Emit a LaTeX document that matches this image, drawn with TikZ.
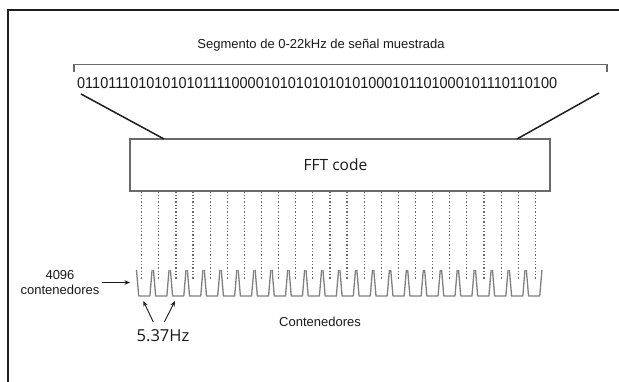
\documentclass[tikz,border=0pt]{standalone}
\usepackage{fontspec}
\setmainfont{Liberation Sans}
\newfontfamily\myr{Open Sans}
\usetikzlibrary{arrows.meta}
\definecolor{framec}{HTML}{1E1E1E}
\definecolor{grayline}{HTML}{6A6A6A}
\definecolor{binc}{HTML}{808080}
\definecolor{txt}{HTML}{1A1A1A}
\begin{document}
\begin{tikzpicture}[x=1pt,y=-1pt,
  frameline/.style={draw=framec,line width=2.4pt},
  bracketline/.style={draw=grayline,line width=1.2pt},
  diag/.style={draw=framec,line width=1.5pt},
  fftbox/.style={draw=grayline,line width=1.2pt,minimum width=420pt,minimum height=52pt,inner sep=0pt},
  lbl/.style={font=\fontsize{13}{15}\selectfont,text=txt,inner sep=2pt},
  dotline/.style={draw=grayline,line width=1.2pt,dash pattern=on 1.3pt off 2pt},
  binline/.style={draw=binc,line width=1.3pt,line join=round},
  arr/.style={draw=txt,line width=0.9pt,-{Stealth[length=5.5pt,width=4.5pt]}}]
\useasboundingbox (0,0) rectangle (619,382);
\fill[white] (0,0) rectangle (619,382);
% frame
\draw[frameline] (8,383) -- (8,10) -- (620,10);
% title and bracket
\node[lbl] (title) at (321,45) {Segmento de 0-22kHz de señal muestrada};
\draw[bracketline] (74,72) -- (74,64.5) -- (607,64.5) -- (607,72);
\node[anchor=west,inner sep=0pt,text=txt] (bits) at (77,83)
  {\resizebox{480pt}{11pt}{0110111010101010111100001010101010101000101101000101110110100}};
% FFT box
\node[fftbox] (fft) at (340,165) {};
\node[font=\myr\fontsize{15.5}{18}\selectfont,text=txt,inner sep=0pt] (fftlbl) at (335.5,165) {FFT code};
\coordinate (la) at (81,94);
\coordinate (lb) at (164,139);
\coordinate (ra) at (599,93);
\coordinate (rb) at (517,139);
\draw[diag] (la) -- (lb);
\draw[diag] (ra) -- (rb);
% dotted lines and bins
\foreach \i in {0,...,23}{
  \coordinate (b\i) at ({141.7+17.115*\i},279);
  \draw[dotline] (b\i |- fft.south) -- (b\i);
  \draw[binline] ({136.5+16.95*\i},270) -- ++(2.2,26) -- ++(11.2,0) -- ++(2.2,-26);
}
% left label
\node[lbl,align=center] (cnt) at (60,282.5) {4096\\contenedores};
\coordinate (cntend) at (130,282.5);
\draw[arr] (cnt.east) -- (cntend);
% bottom labels
\node[lbl] (cont) at (320,321.7) {Contenedores};
\node[font=\myr\fontsize{16.5}{19}\selectfont,text=txt,inner sep=0pt] (hz) at (163,336) {5.37Hz};
\coordinate (h1s) at (153.3,322);
\coordinate (h1e) at (143.3,301);
\coordinate (h2s) at (164.3,322);
\coordinate (h2e) at (175,301);
\draw[arr] (h1s) -- (h1e);
\draw[arr] (h2s) -- (h2e);
\end{tikzpicture}
\end{document}
